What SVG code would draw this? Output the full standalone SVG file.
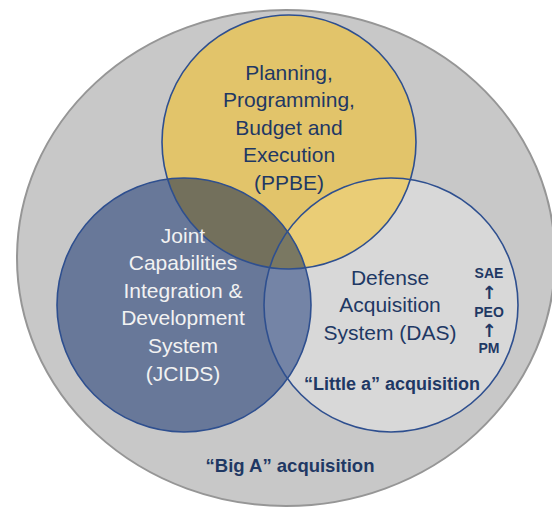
<svg xmlns="http://www.w3.org/2000/svg" width="552" height="508" viewBox="0 0 552 508">
<style>
.ring{fill:none;stroke:#2e4f8f;stroke-width:1.6}
.t{font-family:"Liberation Sans",Arial,sans-serif;font-size:21px;text-anchor:middle}
.navy{fill:#1f3864}
.white{fill:#f2f2f2}
.b{font-family:"Liberation Sans",Arial,sans-serif;font-weight:bold;text-anchor:middle;fill:#1f3864}
.arr{font-family:"DejaVu Sans",sans-serif;font-weight:bold;text-anchor:middle;fill:#1f3864;font-size:18px}
</style>
<defs>
<clipPath id="cY"><circle cx="289" cy="142" r="127"/></clipPath>
<clipPath id="cJ"><circle cx="184" cy="305" r="127"/></clipPath>
</defs>
<rect width="552" height="508" fill="#ffffff"/>
<g id="bigA">
<ellipse cx="286" cy="258" rx="269" ry="248" fill="#c8c8c8" stroke="#969696" stroke-width="2"/>
</g>
<g id="fills">
<circle cx="289" cy="142" r="127" fill="#e2c46a"/>
<circle cx="184" cy="305" r="127" fill="#687899"/>
<circle cx="391" cy="305" r="127" fill="#d8d8d8"/>
<circle cx="184" cy="305" r="127" fill="#73705c" clip-path="url(#cY)"/>
<circle cx="391" cy="305" r="127" fill="#eacd76" clip-path="url(#cY)"/>
<circle cx="391" cy="305" r="127" fill="#7484a6" clip-path="url(#cJ)"/>
<g clip-path="url(#cY)"><circle cx="391" cy="305" r="127" fill="#7a7862" clip-path="url(#cJ)"/></g>
</g>
<g id="ppbe">
<circle class="ring" cx="289" cy="142" r="127"/>
<text class="t navy" x="289" y="80">Planning,</text>
<text class="t navy" x="289" y="107">Programming,</text>
<text class="t navy" x="289" y="135">Budget and</text>
<text class="t navy" x="289" y="162">Execution</text>
<text class="t navy" x="289" y="190">(PPBE)</text>
</g>
<g id="jcids">
<circle class="ring" cx="184" cy="305" r="127"/>
<text class="t white" x="183" y="243">Joint</text>
<text class="t white" x="183" y="270">Capabilities</text>
<text class="t white" x="183" y="298">Integration &amp;</text>
<text class="t white" x="183" y="325">Development</text>
<text class="t white" x="183" y="353">System</text>
<text class="t white" x="183" y="381">(JCIDS)</text>
</g>
<g id="das">
<circle class="ring" cx="391" cy="305" r="127"/>
<text class="t navy" x="390" y="285">Defense</text>
<text class="t navy" x="390" y="312">Acquisition</text>
<text class="t navy" x="390" y="340">System (DAS)</text>
<text class="b" x="489" y="278" font-size="14">SAE</text>
<text class="arr" x="489" y="299">↑</text>
<text class="b" x="489" y="317" font-size="14">PEO</text>
<text class="arr" x="489" y="337">↑</text>
<text class="b" x="489" y="353" font-size="14">PM</text>
<text class="b" x="392" y="390" font-size="18">“Little a” acquisition</text>
</g>
<g id="bigA-label">
<text class="b" x="290" y="472" font-size="18.5">“Big A” acquisition</text>
</g>
</svg>
